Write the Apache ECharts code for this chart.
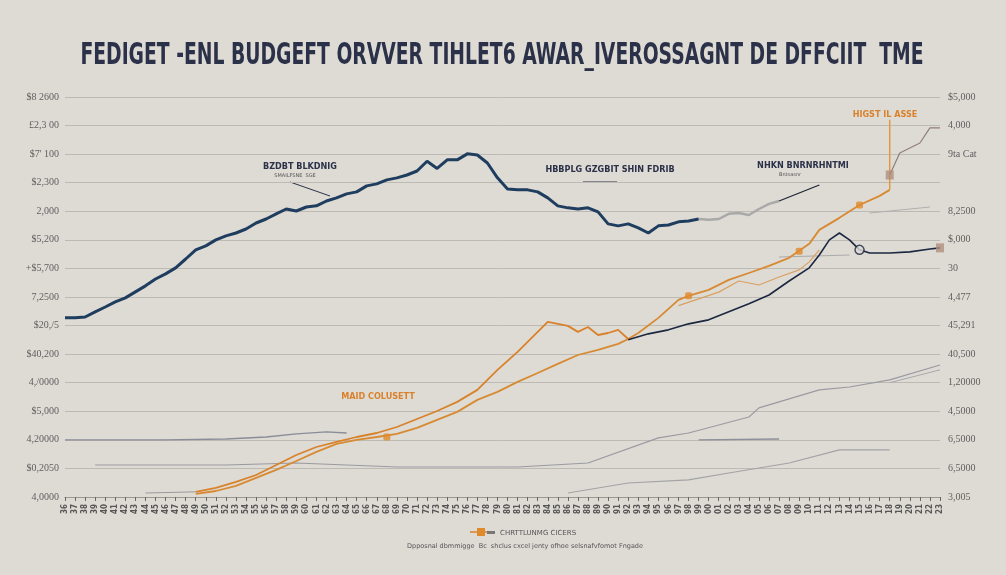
<!DOCTYPE html>
<html><head><meta charset="utf-8">
<script src="https://cdn.jsdelivr.net/npm/echarts@6/dist/echarts.min.js"></script>
<style>html,body{margin:0;padding:0;background:#dedbd5;}#c{width:1006px;height:575px;}</style>
</head><body><div id="c"></div>
<script>
// ---------- DATA ----------
const titleText = "FEDIGET -ENL BUDGEFT ORVVER TIHLET6 AWAR_IVEROSSAGNT DE DFFCIIT  TME";
const categories = [];
for (let y = 1936; y <= 2023; y++) categories.push(String(y));
const leftTicks = ["$8 2600","£2,3 00","$7' 100","$2,300","2,000","$5,200","+$5,700","7,2500","$20,/5","$40,200","4,/0000","$5,000","4,20000","$0,2050","4,0000"];
const rightTicks = ["$5,000","4,000","9ta Cat","","8,2500","$,000","30","4,477","45,291","40,500","1,20000","4,5000","6,5000","6,5000","3,005"];

const debtMain = [6.27,6.27,6.30,6.48,6.65,6.83,6.97,7.18,7.39,7.63,7.81,8.02,8.33,8.65,8.79,9.00,9.14,9.24,9.38,9.59,9.73,9.91,10.08,10.01,10.15,10.19,10.36,10.47,10.61,10.68,10.89,10.96,11.10,11.17,11.27,11.41,11.75,11.50,11.80,11.80,12.01,11.97,11.69,11.17,10.78,10.75,10.75,10.68,10.47,10.19,10.12,10.08,10.12,9.98,9.56,9.49,9.56,9.42,9.24,9.49,9.52,9.63,9.66,9.73];
const debtRecent = [[63,9.73],[64,9.70],[65,9.73],[66,9.91],[67,9.94],[68,9.87],[69,10.08],[70,10.26],[71,10.36]];
const debtPointer = [[71,10.36],[75,10.92]];
const deficitPeak = [[13,0.18],[15,0.32],[17,0.53],[19,0.77],[21,1.12],[23,1.47],[25,1.75],[27,1.93],[29,2.10],[31,2.24],[33,2.45],[35,2.73],[37,3.01],[39,3.33],[41,3.75],[43,4.45],[45,5.08],[47,5.78],[48,6.13],[49,6.06],[50,5.99],[51,5.78],[52,5.95],[53,5.67],[54,5.74],[55,5.85],[56,5.53]];
const deficitLong = [[13,0.11],[15,0.21],[17,0.39],[19,0.67],[21,0.95],[23,1.26],[25,1.58],[27,1.86],[29,2.00],[31,2.10],[33,2.21],[35,2.42],[37,2.70],[39,2.98],[41,3.40],[43,3.68],[45,4.03],[47,4.34],[49,4.66],[51,4.97],[53,5.15],[55,5.36],[56,5.53],[57,5.74],[59,6.27],[61,6.90],[62,7.04],[64,7.25],[66,7.60],[68,7.84],[70,8.09],[72,8.37],[74,8.86],[75,9.35],[77,9.77],[79,10.22],[81,10.54],[82,10.75]];
const deficitSpike = [[82,10.75],[82,13.2]];
const deficitThin = [[61,6.70],[65,7.17],[67,7.56],[69,7.42],[71,7.70],[73,7.95],[74,8.23],[75,8.65]];
const spending = [[56,5.50],[58,5.71],[60,5.85],[62,6.06],[64,6.20],[66,6.48],[68,6.76],[70,7.07],[72,7.56],[74,8.02],[75,8.47],[76,9.00],[77,9.24],[78,9.00],[79,8.65],[80,8.54],[82,8.54],[84,8.58],[86,8.68],[87,8.72]];
const revenueOld = [[0,2.00],[10,2.00],[16,2.03],[20,2.10],[23,2.21],[26,2.28],[28,2.24]];
const revenueMid = [[3,1.12],[16,1.12],[23,1.19],[33,1.05],[45,1.05],[52,1.19],[59,2.07],[62,2.24],[68,2.80],[69,3.12],[75,3.75],[78,3.85],[82,4.10],[87,4.62]];
const revenueMid2 = [[82,4.00],[87,4.45]];
const interestLow = [[8,0.14],[13,0.18]];
const interestNew = [[50,0.14],[56,0.49],[62,0.60],[66,0.84],[72,1.19],[77,1.65],[82,1.65]];
const shortSeg = [[63,2.00],[71,2.03]];
const grayTop = [[80,9.94],[86,10.15]];
const grayMid = [[71,8.40],[78,8.47]];
const highTail = [[82,11.27],[83,12.04],[85,12.39],[86,12.92],[87,12.92]];
const orangeMarks = [[62,7.04],[73,8.60],[79,10.22],[32,2.10]];
const brownMarks = [[82,11.27],[87,8.72]];

// ---------- CHART ----------
const chart = echarts.init(document.getElementById('c'));
const lab = {fontFamily:'"Liberation Serif","DejaVu Serif",serif', fontSize:10, color:'#5f5f5f'};
function line(data, color, width, z, extra){
  return Object.assign({type:'line', data, showSymbol:false, symbol:'none', smooth:false,
    lineStyle:{color, width}, z:z||2, silent:true, animation:false, yAxisIndex:0}, extra||{});
}
const option = {
  backgroundColor:'#dedbd5',
  animation:false,
  grid:{left:65, right:66, top:97, bottom:78, containLabel:false},
  xAxis:{type:'category', data:categories, boundaryGap:false,
    axisLine:{show:true, lineStyle:{color:'#9a9893', width:1}},
    axisTick:{show:true, alignWithLabel:true, length:4, lineStyle:{color:'#666'}},
    axisLabel:{interval:0, rotate:90, fontSize:8, fontWeight:'bold', color:'#555', margin:7,
      fontFamily:'"DejaVu Sans Condensed","DejaVu Sans",sans-serif',
      formatter:v=>v.slice(2)},
    splitLine:{show:false}},
  yAxis:[
    {type:'value', min:0, max:14, interval:1, position:'left',
     axisLine:{show:false}, axisTick:{show:false},
     axisLabel:Object.assign({margin:6, formatter:v=>leftTicks[14-Math.round(v)]}, lab),
     splitLine:{show:true, lineStyle:{color:'#bdbab4', width:1}}},
    {type:'value', min:0, max:14, interval:1, position:'right',
     axisLine:{show:false}, axisTick:{show:false},
     axisLabel:Object.assign({margin:8, formatter:v=>rightTicks[14-Math.round(v)]}, lab),
     splitLine:{show:false}}
  ],
  series:[
    line(revenueOld,'#8a8c98',1.3,2),
    line(revenueMid,'#9a9aa2',1.2,2),
    line(revenueMid2,'#a8a8ae',1,2),
    line(interestLow,'#9a9a9a',1,2),
    line(interestNew,'#a3a3a6',1.2,2),
    line(shortSeg,'#8d8f99',1.3,2),
    line(grayTop,'#b0b0b0',1,2),
    line(grayMid,'#aaaaaa',1,2),
    line(debtMain,'#1f3d5e',3,6),
    line(debtRecent,'#a9a9a9',2.5,5),
    line(debtPointer,'#1c2535',1.3,5),
    line(deficitLong,'#d88a33',1.8,4),
    line(deficitPeak,'#d9822b',1.8,4),
    line(deficitThin,'#d9a060',1.2,3),
    line(deficitSpike,'#e0993f',1.5,4),
    line(spending,'#1c2840',1.6,5),
    line(highTail,'#8f7f78',1.2,4),
    {type:'scatter', data:orangeMarks, symbol:'roundRect', symbolSize:7, itemStyle:{color:'#e08a2c'}, z:7, silent:true},
    {type:'scatter', data:brownMarks, symbol:'rect', symbolSize:[8,9], itemStyle:{color:'#b09080'}, z:7, silent:true},
    {type:'scatter', data:[[79,8.65]], symbol:'circle', symbolSize:9, itemStyle:{color:'#dedbd5', borderColor:'#1c2840', borderWidth:1.5}, z:8, silent:true}
  ],
  graphic:[
    {type:'text', x:502, y:56, scaleX:0.695, style:{text:titleText, textAlign:'center', textVerticalAlign:'middle',
      font:'bold 30px "DejaVu Sans Condensed","DejaVu Sans",sans-serif', fill:'#2b3148'}},
    {type:'text', x:300, y:167, style:{text:'BZDBT BLKDNIG', textAlign:'center', textVerticalAlign:'middle', font:'bold 9px "DejaVu Sans Condensed",sans-serif', fill:'#2b3148'}},
    {type:'text', x:295, y:176, style:{text:'SMAILFSNE  SGE', textAlign:'center', textVerticalAlign:'middle', font:'5px "DejaVu Sans",sans-serif', fill:'#555'}},
    {type:'line', shape:{x1:290,y1:182,x2:330,y2:196}, style:{stroke:'#2b3148', lineWidth:1}},
    {type:'text', x:610, y:170, style:{text:'HBBPLG GZGBIT SHIN FDRIB', textAlign:'center', textVerticalAlign:'middle', font:'bold 9px "DejaVu Sans Condensed",sans-serif', fill:'#2b3148'}},
    {type:'line', shape:{x1:583,y1:182,x2:617,y2:182}, style:{stroke:'#2b3148', lineWidth:1}},
    {type:'text', x:803, y:166, style:{text:'NHKN BNRNRHNTMI', textAlign:'center', textVerticalAlign:'middle', font:'bold 9px "DejaVu Sans Condensed",sans-serif', fill:'#2b3148'}},
    {type:'text', x:790, y:175, style:{text:'Bntsasnr', textAlign:'center', textVerticalAlign:'middle', font:'5px "DejaVu Sans",sans-serif', fill:'#555'}},
    {type:'text', x:885, y:115, style:{text:'HIGST IL ASSE', textAlign:'center', textVerticalAlign:'middle', font:'bold 9px "DejaVu Sans Condensed",sans-serif', fill:'#d9822b'}},
    {type:'text', x:378, y:397, style:{text:'MAID COLUSETT', textAlign:'center', textVerticalAlign:'middle', font:'bold 9px "DejaVu Sans Condensed",sans-serif', fill:'#d9822b'}},
    {type:'line', shape:{x1:470,y1:532,x2:490,y2:532}, style:{stroke:'#d9822b', lineWidth:1.5}},
    {type:'rect', shape:{x:477,y:528,width:8,height:8}, style:{fill:'#e08a2c'}},
    {type:'rect', shape:{x:487,y:531,width:8,height:3}, style:{fill:'#777'}},
    {type:'text', x:500, y:533, style:{text:'CHRTTLUNMG CICERS', textAlign:'left', textVerticalAlign:'middle', font:'7px "DejaVu Sans",sans-serif', fill:'#555'}},
    {type:'text', x:525, y:546, style:{text:'Dpposnal dbmmigge  Bc  shclus cxcel jenty ofhoe selsnafvfomot Fngade', textAlign:'center', textVerticalAlign:'middle', font:'6.5px "DejaVu Sans",sans-serif', fill:'#555'}}
  ]
};
chart.setOption(option);
</script></body></html>
